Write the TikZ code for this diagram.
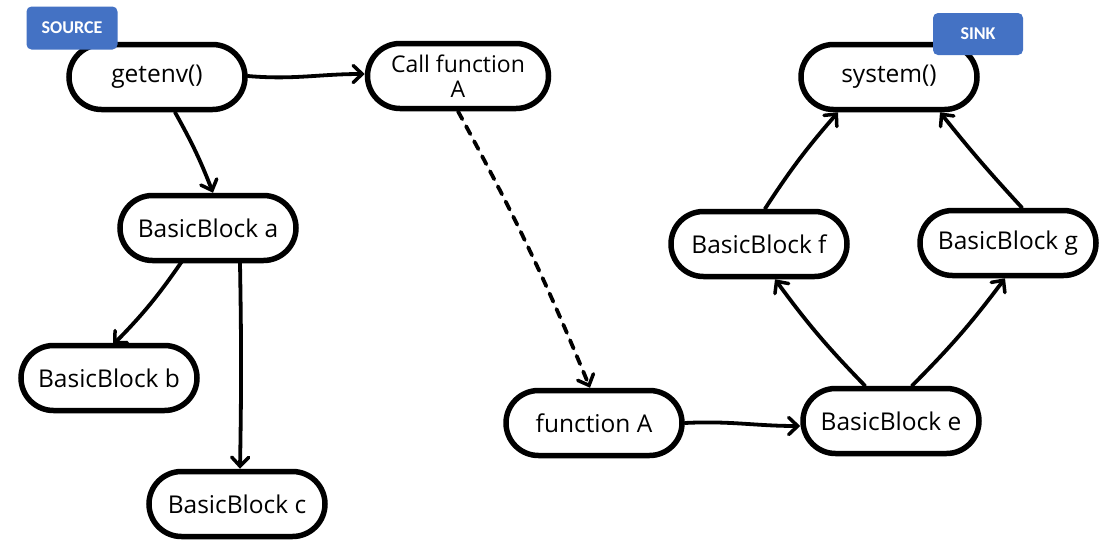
\documentclass[tikz,border=0pt]{standalone}
\usepackage{fontspec}
\setmainfont{Open Sans}
\newfontfamily\tagfont{Carlito}
\usetikzlibrary{shapes.misc,arrows.meta}
\definecolor{tagblue}{HTML}{4472C4}
\tikzset{
  block/.style={rounded rectangle, draw=black, line width=5.5pt, fill=white,
    minimum width=176pt, minimum height=65pt, inner sep=0pt,
    font=\fontsize{24.5}{26}\selectfont, align=center},
  flow/.style={line width=3.8pt, line cap=round,
    -{Straight Barb[length=9pt,width=17pt,line width=3.5pt,line cap=round]}},
  hop/.style={flow, dash pattern=on 9pt off 8pt},
  tag/.style={fill=tagblue, rounded corners=5pt, text=white,
    font=\tagfont\bfseries\fontsize{18}{20}\selectfont, inner sep=0pt}
}
\begin{document}
\begin{tikzpicture}[x=1pt,y=-1pt]
\useasboundingbox (0,0) rectangle (1104,539);

% blocks
\node[block] (getenv) at (157,77) {getenv()};
\node[block, minimum width=181pt, font=\fontsize{23}{24.5}\selectfont] (call) at (458,76) {Call function\\A};
\node[block] (system) at (889,77) {system()};
\node[block] (bba) at (208,228) {BasicBlock a};
\node[block] (bbb) at (109,378) {BasicBlock b};
\node[block] (bbc) at (237,504) {BasicBlock c};
\node[block] (bbf) at (759,244) {BasicBlock f};
\node[block] (bbg) at (1008,243) {BasicBlock g};
\node[block] (funa) at (594,423) {function A};
\node[block] (bbe) at (891,421) {BasicBlock e};

% labels for the entry and exit points
\node[tag, minimum width=91pt, minimum height=43pt] (source) at (72,28) {SOURCE};
\node[tag, minimum width=90pt, minimum height=42pt] (sink) at (978,34) {SINK};

% edges
\draw[flow] ([yshift=1pt]getenv.east) to[out=-5,in=180] ([yshift=2pt]call.west);
\draw[flow] ([xshift=18pt]getenv.south) to[bend left=4] ([xshift=5pt]bba.north);
\draw[hop] (call.south) to[bend left=3] ([xshift=-4pt]funa.north);
\draw[flow] ([xshift=-26pt,yshift=2pt]bba.south) to[bend left=5] ([xshift=4pt,yshift=-2pt]bbb.north);
\draw[flow] ([xshift=32pt]bba.south) to[bend left=1] ([xshift=3pt]bbc.north);
\draw[flow] (funa.east) to[out=3,in=180] ([yshift=-5pt]bbe.west);
\draw[flow] ([xshift=-26pt]bbe.north) to[bend left=4] ([xshift=16pt]bbf.south);
\draw[flow] ([xshift=21pt]bbe.north) to[bend right=4] ([xshift=-3pt]bbg.south);
\draw[flow] ([xshift=6pt]bbf.north) to[bend left=4] ([xshift=-51pt]system.south);
\draw[flow] ([xshift=14pt]bbg.north) to[bend left=2] ([xshift=51pt]system.south);
\end{tikzpicture}
\end{document}
